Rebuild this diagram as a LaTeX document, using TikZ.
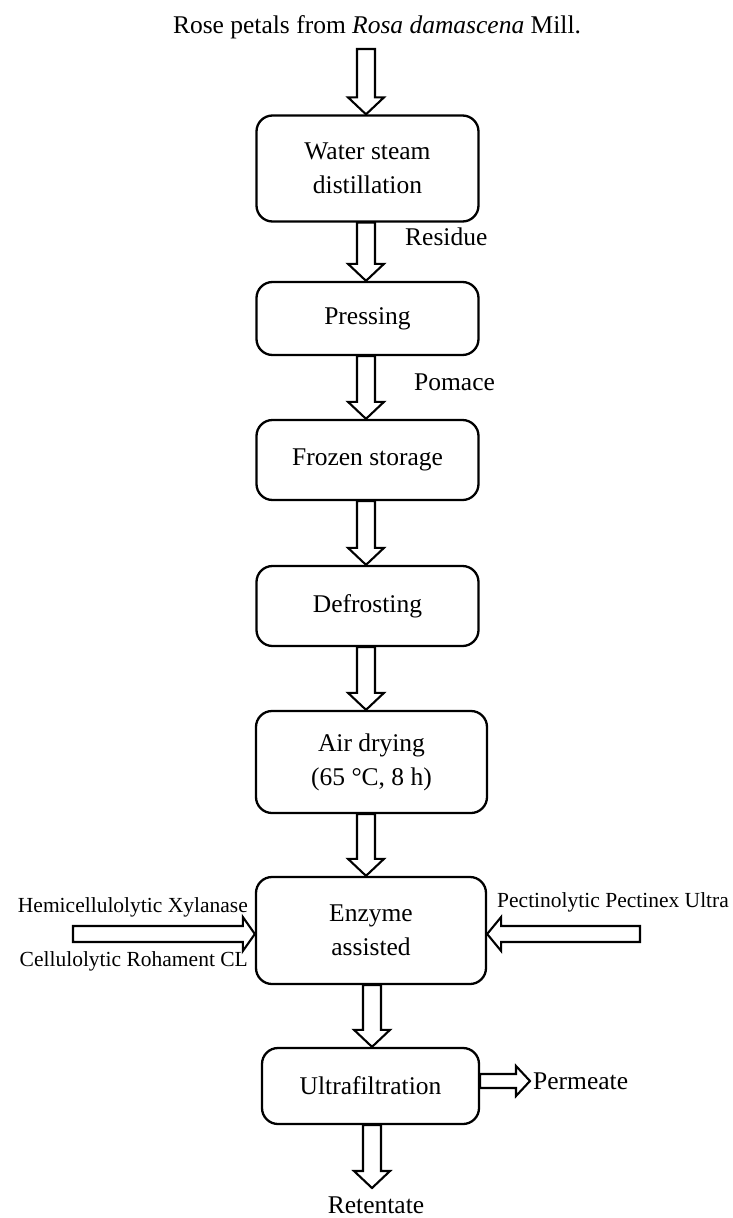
\documentclass[tikz,border=0pt]{standalone}
\usepackage{fontspec}
\setmainfont{Liberation Serif}
\usetikzlibrary{calc}
\tikzset{
  box/.style={draw, line width=2.3pt, rounded corners=16pt, align=center, inner sep=0pt,
              font=\fontsize{25.5}{34}\selectfont},
  lbl/.style={inner sep=0pt, font=\fontsize{25.5}{34}\selectfont},
  slbl/.style={inner sep=0pt, font=\fontsize{21.5}{24}\selectfont},
  blk/.style={draw, line width=2.1pt, fill=white, line join=miter},
}
% vertical down block arrow: #1 top, #2 tip
\newcommand{\darr}[2]{\draw[blk] let \p1=(#1),\p2=(#2) in
  (\x1-9pt,\y1) -- (\x1-9pt,\y2+17pt) -- (\x1-18pt,\y2+17pt) -- (\x1,\y2)
  -- (\x1+18pt,\y2+17pt) -- (\x1+9pt,\y2+17pt) -- (\x1+9pt,\y1) -- cycle;}
% horizontal block arrow: #1 start, #2 tip, #3 shaft half, #4 head half, #5 head length
\newcommand{\harr}[5]{\draw[blk] let \p1=(#1),\p2=(#2),\n1={sign(\x2-\x1)} in
  (\x1,\y1+#3) -- (\x2-\n1*#5,\y1+#3) -- (\x2-\n1*#5,\y1+#4) -- (\x2,\y1)
  -- (\x2-\n1*#5,\y1-#4) -- (\x2-\n1*#5,\y1-#3) -- (\x1,\y1-#3) -- cycle;}
\begin{document}
\begin{tikzpicture}[x=1pt,y=-1pt]
\useasboundingbox (0,0) rectangle (732,1218);

\node[lbl] (title) at (377,27) {Rose petals from \textit{Rosa damascena} Mill.};

\node[box, minimum width=222pt, minimum height=106pt] (b1) at (367.5,168.5) {Water steam\\distillation};
\node[box, minimum width=222pt, minimum height=73pt] (b2) at (367.5,318.5) {Pressing};
\node[box, minimum width=222pt, minimum height=80pt] (b3) at (367.5,460) {Frozen storage};
\node[box, minimum width=222pt, minimum height=80pt] (b4) at (367.5,606) {Defrosting};
\node[box, minimum width=231pt, minimum height=102pt] (b5) at (371.5,762) {Air drying\\(65 °C, 8 h)};
\node[box, minimum width=230pt, minimum height=107pt] (b6) at (371,930.5) {Enzyme\\assisted};
\node[box, minimum width=217pt, minimum height=76pt] (b7) at (370.5,1086) {Ultrafiltration};

\coordinate (a0) at (366,49);
\coordinate (rt) at (372,1188);
\coordinate (la) at (73,934);
\coordinate (ra) at (640,934);
\coordinate (pm) at (530,1081);

\darr{a0}{b1.north -| a0}
\darr{b1.south -| a0}{b2.north -| a0}
\darr{b2.south -| a0}{b3.north -| a0}
\darr{b3.south -| a0}{b4.north -| a0}
\darr{b4.south -| a0}{b5.north -| a0}
\darr{b5.south -| a0}{b6.north -| a0}
\darr{b6.south -| rt}{b7.north -| rt}
\darr{b7.south -| rt}{rt}

\harr{la}{b6.west |- la}{8pt}{17pt}{12pt}
\harr{ra}{b6.east |- ra}{8pt}{17pt}{14pt}
\harr{b7.east |- pm}{pm}{7pt}{15pt}{14pt}

\node[lbl, anchor=west] (res) at (405,237) {Residue};
\node[lbl, anchor=west] (pom) at (414,382) {Pomace};
\node[lbl, anchor=west] (perm) at (533,1081) {Permeate};
\node[lbl, anchor=base] (ret) at (376,1213) {Retentate};

\node[slbl, anchor=east] (hx) at (248,907) {Hemicellulolytic Xylanase};
\node[slbl, anchor=east] (cr) at (248,961) {Cellulolytic Rohament CL};
\node[slbl, anchor=west] (pp) at (497,902) {Pectinolytic Pectinex Ultra};
\end{tikzpicture}
\end{document}
